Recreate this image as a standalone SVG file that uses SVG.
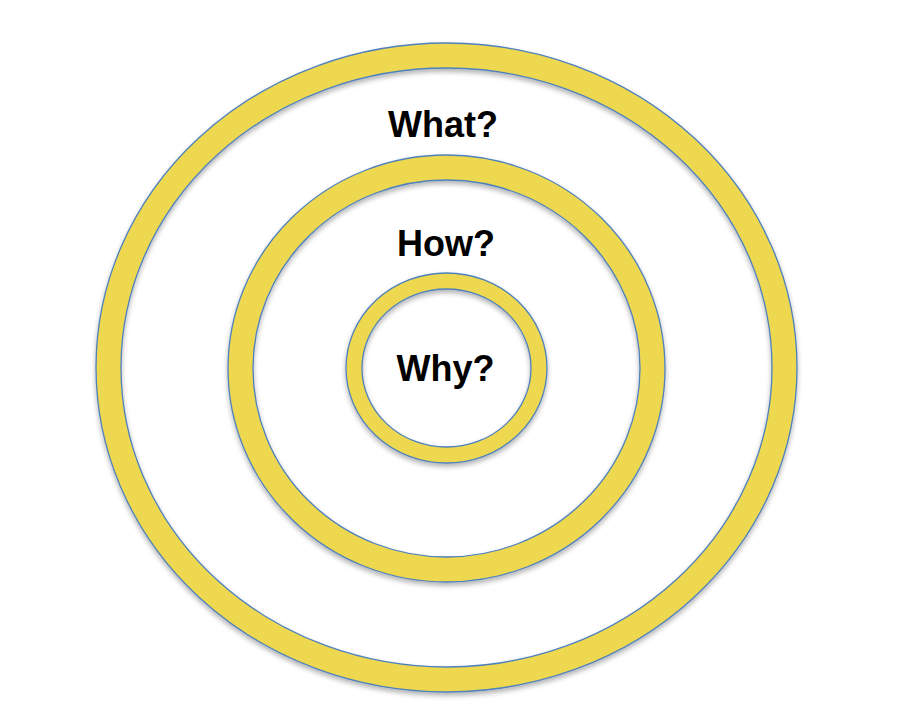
<svg xmlns="http://www.w3.org/2000/svg" width="900" height="706" viewBox="0 0 900 706">
<style>
.band{fill:none;stroke:#EDD84F}
.edge{fill:none;stroke:#4F81BD;stroke-width:1.3}
.lbl{font-family:"Liberation Sans",Arial,sans-serif;font-weight:bold;font-size:36px;fill:#000;text-anchor:middle}
</style>
<defs>
<filter id="sh" x="-10%" y="-10%" width="120%" height="125%">
<feDropShadow dx="0" dy="3" stdDeviation="2.5" flood-color="#000" flood-opacity="0.3"/>
</filter>
</defs>
<rect width="900" height="706" fill="#fff"/>
<g id="what">
<g filter="url(#sh)">
<ellipse class="band" cx="446.5" cy="367.5" rx="338" ry="312" stroke-width="25"/>
<ellipse class="edge" cx="446.5" cy="367.5" rx="350.5" ry="324.5"/>
<ellipse class="edge" cx="446.5" cy="367.5" rx="325.5" ry="299.5"/>
</g>
<text class="lbl" x="443" y="137">What?</text>
</g>
<g id="how">
<g filter="url(#sh)">
<ellipse class="band" cx="446.5" cy="368.5" rx="206" ry="201" stroke-width="25"/>
<ellipse class="edge" cx="446.5" cy="368.5" rx="218.5" ry="213.5"/>
<ellipse class="edge" cx="446.5" cy="368.5" rx="193.5" ry="188.5"/>
</g>
<text class="lbl" x="446" y="256">How?</text>
</g>
<g id="why">
<g filter="url(#sh)">
<ellipse class="band" cx="446.5" cy="368" rx="92.5" ry="87" stroke-width="16"/>
<ellipse class="edge" cx="446.5" cy="368" rx="100.5" ry="95"/>
<ellipse class="edge" cx="446.5" cy="368" rx="84.5" ry="79"/>
</g>
<text class="lbl" x="445.5" y="381">Why?</text>
</g>
</svg>
